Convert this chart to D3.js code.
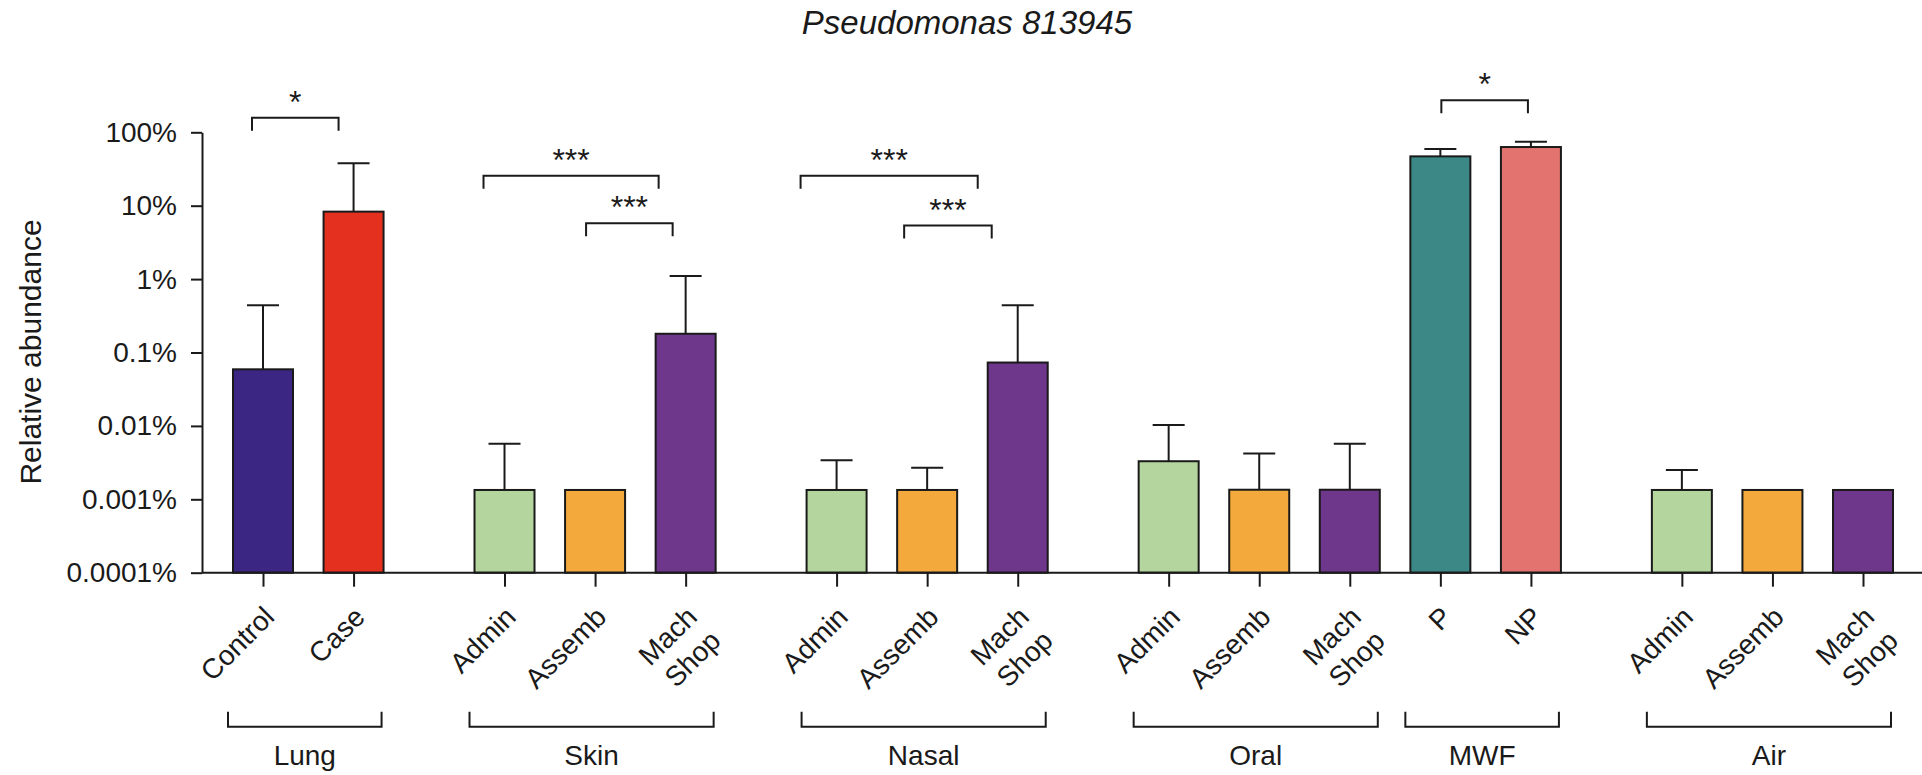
<!DOCTYPE html>
<html>
<head>
<meta charset="utf-8">
<script src="https://cdn.jsdelivr.net/npm/d3@7"></script>
<style>
  body { margin: 0; background: #fff; }
  text { font-family: "Liberation Sans", Arial, Helvetica, sans-serif; fill: #1a1a1a; }
</style>
</head>
<body>
<div id="chart"></div>
<script>
// values are relative abundance in percent
const groups = ["Lung", "Skin", "Nasal", "Oral", "MWF", "Air"];
const categories = ["Control", "Case", "Admin", "Assemb", "Mach Shop", "Admin", "Assemb", "Mach Shop",
                    "Admin", "Assemb", "Mach Shop", "P", "NP", "Admin", "Assemb", "Mach Shop"];
const categoryGroup = ["Lung", "Lung", "Skin", "Skin", "Skin", "Nasal", "Nasal", "Nasal",
                       "Oral", "Oral", "Oral", "MWF", "MWF", "Air", "Air", "Air"];
const meanAbundance = [0.059, 8.3, 0.00134, 0.00134, 0.18, 0.00134, 0.00134, 0.073,
                       0.0033, 0.00135, 0.00135, 47, 63, 0.00134, 0.00134, 0.00134];
const errorTop = [0.44, 38, 0.0057, null, 1.1, 0.0034, 0.0027, 0.44,
                  0.0103, 0.0042, 0.0057, 59, 74.5, 0.0025, null, null];
const yTicks = [0.0001, 0.001, 0.01, 0.1, 1, 10, 100];
const yTickLabels = ["0.0001%", "0.001%", "0.01%", "0.1%", "1%", "10%", "100%"];
// significance brackets: bar indices, label, bracket height (in %)
const comparisons = [
  { from: 0, to: 1, label: "*", level: 158 },
  { from: 2, to: 4, label: "***", level: 25.6 },
  { from: 3, to: 4, label: "***", level: 5.75 },
  { from: 5, to: 7, label: "***", level: 25.6 },
  { from: 6, to: 7, label: "***", level: 5.36 },
  { from: 11, to: 12, label: "*", level: 273 }
];

const colors = {
  "Control": "#3b2683", "Case": "#e3301f", "Admin": "#b4d59d", "Assemb": "#f3a93c",
  "Mach Shop": "#6e378b", "P": "#3b8887", "NP": "#e2736e"
};

const width = 1922, height = 775;
const axisX = 202, barWidth = 60, groupGap = 2 / 3;
// hand-drawn brackets in the original sit a little off the bar centres
const bracketNudge = [[-11, -15], [-21, -27], [-9, -13], [-36, -40], [-23, -26], [1, -3]];

const svg = d3.select("#chart").append("svg")
    .attr("width", width)
    .attr("height", height);

// slot positions: one slot per bar, extra gap between groups (none before MWF)
const slots = [];
let pos = 0;
categories.forEach((c, i) => {
    if (i > 0) {
        if (categoryGroup[i] !== categoryGroup[i - 1] && categoryGroup[i] !== "MWF") pos += 1 + groupGap;
        else pos += 1;
    }
    slots.push(pos);
});

const x = d3.scaleLinear().domain([0, slots[slots.length - 1]]).range([263, 1863]);
const y = d3.scaleLog().domain([0.0001, 100]).range([572.7, 132.3]);
const baseY = y(0.0001);

// title
svg.append("text")
    .attr("x", 967)
    .attr("y", 34)
    .attr("text-anchor", "middle")
    .style("font-size", "33px")
    .style("font-style", "italic")
    .text("Pseudomonas 813945");

// y axis
const yAxis = svg.append("g")
    .attr("transform", `translate(${axisX},0)`)
    .call(d3.axisLeft(y).tickValues(yTicks).tickFormat((d, i) => yTickLabels[i])
        .tickSize(11).tickSizeOuter(0).tickPadding(14));
yAxis.select(".domain").attr("stroke", "#1a1a1a").attr("stroke-width", 2);
yAxis.selectAll(".tick line").attr("stroke", "#1a1a1a").attr("stroke-width", 2);
yAxis.selectAll(".tick text").style("font-size", "28px").attr("fill", "#1a1a1a")
    .attr("font-family", null);

svg.append("text")
    .attr("transform", `translate(41,352) rotate(-90)`)
    .attr("text-anchor", "middle")
    .style("font-size", "30px")
    .text("Relative abundance");

// bars
svg.selectAll(".bar")
    .data(meanAbundance)
    .enter().append("rect")
    .attr("class", "bar")
    .attr("x", (d, i) => x(slots[i]) - barWidth / 2)
    .attr("y", d => y(d))
    .attr("width", barWidth)
    .attr("height", d => baseY - y(d))
    .attr("fill", (d, i) => colors[categories[i]])
    .attr("stroke", "#1a1a1a")
    .attr("stroke-width", 2);

// error bars (upper only)
const err = svg.selectAll(".err")
    .data(errorTop.map((e, i) => ({ e, i })).filter(d => d.e != null))
    .enter().append("g")
    .attr("class", "err")
    .attr("stroke", "#1a1a1a")
    .attr("stroke-width", 2);
err.append("line")
    .attr("x1", d => x(slots[d.i])).attr("x2", d => x(slots[d.i]))
    .attr("y1", d => y(meanAbundance[d.i])).attr("y2", d => y(d.e));
err.append("line")
    .attr("x1", d => x(slots[d.i]) - 16).attr("x2", d => x(slots[d.i]) + 16)
    .attr("y1", d => y(d.e)).attr("y2", d => y(d.e));

// x axis baseline and ticks
const xAxis = svg.append("g")
    .attr("transform", `translate(0,${baseY})`)
    .call(d3.axisBottom(x).tickValues(slots).tickFormat("").tickSize(14).tickSizeOuter(0));
xAxis.select(".domain").remove();
xAxis.selectAll(".tick line").attr("stroke", "#1a1a1a").attr("stroke-width", 2);
svg.append("line")
    .attr("x1", axisX).attr("x2", width)
    .attr("y1", baseY).attr("y2", baseY)
    .attr("stroke", "#1a1a1a").attr("stroke-width", 2);

// category labels, rotated
const catLabels = svg.selectAll(".cat")
    .data(categories)
    .enter().append("text")
    .attr("class", "cat")
    .attr("transform", (d, i) => `translate(${x(slots[i]) + 13},${baseY + 46}) rotate(-45)`)
    .attr("text-anchor", "end")
    .style("font-size", "28px");
catLabels.each(function(d) {
    const parts = d.split(" ");
    const t = d3.select(this);
    parts.forEach((p, k) => {
        t.append("tspan").attr("x", 0).attr("dy", k === 0 ? 0 : "1.2em").text(p);
    });
});

// group brackets under the labels
groups.forEach(g => {
    const idx = categoryGroup.map((c, i) => c === g ? i : -1).filter(i => i >= 0);
    const x0 = x(slots[idx[0]]) - 35;
    const x1 = x(slots[idx[idx.length - 1]]) + 28;
    svg.append("path")
        .attr("d", `M${x0},711.7 V726.7 H${x1} V711.7`)
        .attr("fill", "none")
        .attr("stroke", "#1a1a1a")
        .attr("stroke-width", 2);
    svg.append("text")
        .attr("x", (x0 + x1) / 2)
        .attr("y", 765)
        .attr("text-anchor", "middle")
        .style("font-size", "28px")
        .text(g);
});

// significance brackets
comparisons.forEach((c, k) => {
    const x0 = x(slots[c.from]) + bracketNudge[k][0];
    const x1 = x(slots[c.to]) + bracketNudge[k][1];
    const yb = y(c.level);
    svg.append("path")
        .attr("d", `M${x0},${yb + 13} V${yb} H${x1} V${yb + 13}`)
        .attr("fill", "none")
        .attr("stroke", "#1a1a1a")
        .attr("stroke-width", 2);
    svg.append("text")
        .attr("x", (x0 + x1) / 2)
        .attr("y", yb - 5)
        .attr("text-anchor", "middle")
        .style("font-size", "32px")
        .text(c.label);
});
</script>
</body>
</html>
